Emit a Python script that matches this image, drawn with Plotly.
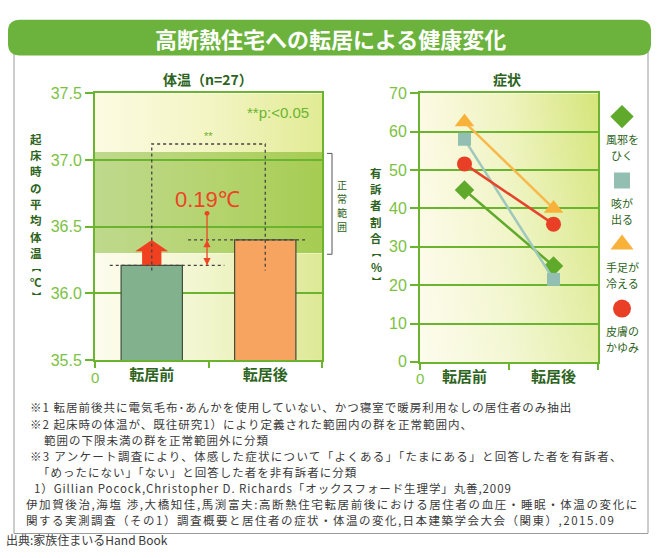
import base64
import plotly.graph_objects as go

W, H = 659, 558
def X(px): return px / W
def Y(py): return 1 - py / H

# ---------------- data ----------------
title = "高断熱住宅への転居による健康変化"
categories = ["転居前", "転居後"]

temp_title = "体温（n=27）"
temp_values = [36.21, 36.40]           # mean wake-up body temperature
temp_ticks = [35.5, 36.0, 36.5, 37.0, 37.5]
temp_range = [35.5, 37.5]
normal_range = [36.30, 37.06]          # 正常範囲
temp_axis_title = "起床時の平均体温"
temp_axis_unit = ["︻", "℃", "︼"]
diff_label = "0.19℃"
sig_label = "**p:<0.05"
normal_label = "正常範囲"

symp_title = "症状"
symptom_labels = [["風邪を", "ひく"], ["咳が", "出る"], ["手足が", "冷える"], ["皮膚の", "かゆみ"]]
cold = [44.8, 25.0]        # 風邪をひく
cough = [58.0, 21.5]       # 咳が出る
cold_limbs = [62.5, 40.0]  # 手足が冷える
itch = [51.6, 35.9]        # 皮膚のかゆみ
symp_ticks = [0, 10, 20, 30, 40, 50, 60, 70]
symp_range = [0, 70]
symp_axis_title = "有訴者割合"
symp_axis_unit = ["︻", "%", "︼"]

notes = [
    "※1 転居前後共に電気毛布･あんかを使用していない、かつ寝室で暖房利用なしの居住者のみ抽出",
    "※2 起床時の体温が、既往研究1）により定義された範囲内の群を正常範囲内、",
    "範囲の下限未満の群を正常範囲外に分類",
    "※3 アンケート調査により、体感した症状について「よくある」「たまにある」と回答した者を有訴者、",
    "「めったにない」「ない」と回答した者を非有訴者に分類",
    "1）Gillian Pocock,Christopher D. Richards「オックスフォード生理学」丸善,2009",
    "伊加賀後治,海塩 渉,大橋知佳,馬渕富夫:高断熱住宅転居前後における居住者の血圧・睡眠・体温の変化に",
    "関する実測調査（その1）調査概要と居住者の症状・体温の変化,日本建築学会大会（関東）,2015.09",
]
source_text = "出典:家族住まいるHand Book"

# ---------------- styles ----------------
JP = "Noto Sans CJK JP"
NUM = "Liberation Sans"
GREEN = "#6ab42f"
TICKGREEN = "#7cc143"
DARKGREEN = "#2d6320"
RED = "#ee4424"

def grad_uri(colors, vfade=0.0):
    stops = "".join(f'<stop offset="{i/(len(colors)-1):.3f}" stop-color="{c}"/>' for i, c in enumerate(colors))
    extra = ""
    if vfade > 0:
        extra = ('<linearGradient id="v" x1="0" y1="0" x2="0" y2="1">'
                 '<stop offset="0" stop-color="#ffffff" stop-opacity="0"/>'
                 f'<stop offset="1" stop-color="#ffffff" stop-opacity="{vfade}"/></linearGradient>')
    svg = ('<svg xmlns="http://www.w3.org/2000/svg" width="200" height="200" viewBox="0 0 200 200" '
           'preserveAspectRatio="none"><defs>'
           f'<linearGradient id="g" x1="0" y1="0" x2="1" y2="0">{stops}</linearGradient>{extra}</defs>'
           '<rect width="200" height="200" fill="url(#g)"/>'
           + ('<rect width="200" height="200" fill="url(#v)"/>' if vfade > 0 else '') + '</svg>')
    return "data:image/svg+xml;base64," + base64.b64encode(svg.encode()).decode()

fig = go.Figure()

# ---- left: body temperature bars ----
fig.add_trace(go.Bar(
    x=categories, y=temp_values, width=0.54,
    marker=dict(color=["#82b28d", "#f6a45f"], line=dict(color="#3f4f3a", width=1.2)),
    xaxis="x", yaxis="y", showlegend=False, hoverinfo="skip"))

# ---- right: symptom lines ----
series = [
    (cold, "diamond", 15, "#5fa92b", "#5fa92b"),
    (cough, "square", 13, "#93bfb2", "#9fc8bd"),
    (cold_limbs, "triangle-up", 17, "#f8b23a", "#f8b84a"),
    (itch, "circle", 15, "#e93f26", "#e5432b"),
]
for vals, sym, size, mcol, lcol in series:
    fig.add_trace(go.Scatter(
        x=categories, y=vals, mode="lines+markers",
        line=dict(color=lcol, width=2.5),
        marker=dict(symbol=sym, size=size, color=mcol),
        xaxis="x2", yaxis="y2", showlegend=False, hoverinfo="skip"))

# ---- custom legend markers ----
for i, (vals, sym, size, mcol, lcol) in enumerate(series):
    fig.add_trace(go.Scatter(
        x=[0], y=[i], mode="markers",
        marker=dict(symbol=sym, size=size + 3, color=mcol),
        xaxis="x3", yaxis="y3", showlegend=False, hoverinfo="skip"))

common_x = dict(type="category", range=[-0.5, 1.5], showgrid=False, showline=True, mirror=True,
                linecolor=GREEN, linewidth=2, ticks="outside", tickson="boundaries", ticklen=6,
                tickcolor=GREEN, tickwidth=2,
                tickfont=dict(family=JP, size=15, color=DARKGREEN, weight="bold"))
common_y = dict(showgrid=True, gridcolor=GREEN, gridwidth=2, showline=True, mirror=True,
                linecolor=GREEN, linewidth=2, ticks="outside", ticklen=8, tickcolor=GREEN,
                tickwidth=2, zeroline=False, tickfont=dict(family=NUM, size=16, color=TICKGREEN))

fig.update_layout(
    width=W, height=H, margin=dict(l=0, r=0, t=0, b=0),
    paper_bgcolor="white", plot_bgcolor="rgba(0,0,0,0)",
    xaxis=dict(domain=[X(95), X(322)], anchor="y", **common_x),
    yaxis=dict(domain=[Y(363), Y(88)], anchor="x", range=temp_range,
               tickvals=temp_ticks, ticktext=[f"{v:.1f}" for v in temp_ticks], **common_y),
    xaxis2=dict(domain=[X(420), X(598)], anchor="y2", **common_x),
    yaxis2=dict(domain=[Y(365), Y(88)], anchor="x2", range=symp_range,
                tickvals=symp_ticks, **common_y),
    xaxis3=dict(domain=[X(610), X(634)], anchor="y3", range=[-1, 1], visible=False),
    yaxis3=dict(domain=[Y(343), Y(79)], anchor="x3", range=[3.5, -0.5], visible=False),
)

# ---- backgrounds (gradients) ----
images = [
    dict(source=grad_uri(["#fcfbe2", "#f3f5c4", "#e1eb94"]), xref="x domain", yref="y",
         x=0, y=temp_range[1], sizex=1, sizey=temp_range[1] - normal_range[1]),
    dict(source=grad_uri(["#bfd98d", "#b5d470", "#a6cc52"]), xref="x domain", yref="y",
         x=0, y=normal_range[1], sizex=1, sizey=normal_range[1] - normal_range[0]),
    dict(source=grad_uri(["#fdfcee", "#f1f5cc", "#dde996"]), xref="x domain", yref="y",
         x=0, y=normal_range[0], sizex=1, sizey=normal_range[0] - temp_range[0]),
    dict(source=grad_uri(["#fcfae4", "#eef3bd", "#d6e57a"], vfade=0.35), xref="x2 domain", yref="y2",
         x=0, y=symp_range[1], sizex=1, sizey=symp_range[1] - symp_range[0]),
]
for im in images:
    im.update(xanchor="left", yanchor="top", sizing="stretch", layer="below")
fig.update_layout(images=images)

shapes = []
# frame
shapes.append(dict(type="rect", xref="paper", yref="paper", x0=X(14), x1=X(648), y0=Y(542), y1=Y(40),
                   line=dict(color="#9a9a9a", width=1)))
# banner
def rrect(x0, y0, x1, y1, r):
    return (f"M {X(x0+r)},{Y(y0)} L {X(x1-r)},{Y(y0)} Q {X(x1)},{Y(y0)} {X(x1)},{Y(y0+r)} "
            f"L {X(x1)},{Y(y1-r)} Q {X(x1)},{Y(y1)} {X(x1-r)},{Y(y1)} L {X(x0+r)},{Y(y1)} "
            f"Q {X(x0)},{Y(y1)} {X(x0)},{Y(y1-r)} L {X(x0)},{Y(y0+r)} Q {X(x0)},{Y(y0)} {X(x0+r)},{Y(y0)} Z")
shapes.append(dict(type="path", xref="paper", yref="paper", path=rrect(8, 12, 651, 49, 12),
                   fillcolor="#6bb33c", line=dict(width=0)))

b, a = temp_values
# red block arrow on the "before" bar
cx, sw, hw = 0.0, 0.085, 0.145
yb = b + 0.55 * (a - b)
shapes.append(dict(type="path", xref="x", yref="y",
                   path=(f"M {cx-sw},{b} L {cx-sw},{yb} L {cx-hw},{yb} L {cx},{a} L {cx+hw},{yb} "
                         f"L {cx+sw},{yb} L {cx+sw},{b} Z"),
                   fillcolor="#f0401f", line=dict(width=0)))
dot = dict(color="#444444", width=1.3, dash="dot")
shapes.append(dict(type="line", xref="x", yref="y", x0=-0.37, x1=0.64, y0=b, y1=b, line=dot))
shapes.append(dict(type="line", xref="x", yref="y", x0=0.32, x1=1.37, y0=a, y1=a, line=dot))
sig_top, sig_bot = 37.12, 36.17
shapes.append(dict(type="path", xref="x", yref="y",
                   path=f"M 0,{sig_bot} L 0,{sig_top} L 1,{sig_top} L 1,{sig_bot}", line=dot))
# difference arrow
ax_ = 0.487
y_dot = 36.6
shapes.append(dict(type="line", xref="x", yref="y", x0=ax_, x1=ax_, y0=y_dot, y1=b,
                   line=dict(color=RED, width=1.3)))
shapes.append(dict(type="circle", xref="x", yref="y", x0=ax_-0.022, x1=ax_+0.022,
                   y0=y_dot-0.018, y1=y_dot+0.018, fillcolor=RED, line=dict(width=0)))
th, tw = 0.055, 0.032
shapes.append(dict(type="path", xref="x", yref="y",
                   path=f"M {ax_},{a} L {ax_-tw},{a-th} L {ax_+tw},{a-th} Z", fillcolor=RED, line=dict(width=0)))
shapes.append(dict(type="path", xref="x", yref="y",
                   path=f"M {ax_},{b} L {ax_-tw},{b+th} L {ax_+tw},{b+th} Z", fillcolor=RED, line=dict(width=0)))
# normal range bracket
shapes.append(dict(type="path", xref="paper", yref="paper",
                   path=f"M {X(327)},{Y(150)} L {X(332)},{Y(150)} L {X(332)},{Y(254)} L {X(327)},{Y(254)}",
                   line=dict(color="#555555", width=1)))
fig.update_layout(shapes=shapes)

ann = []
def pa(text, x, y, size, color, family=JP, weight="normal", xanchor="center", yanchor="middle", align="center"):
    ann.append(dict(text=text, xref="paper", yref="paper", x=X(x), y=Y(y), showarrow=False,
                    xanchor=xanchor, yanchor=yanchor, align=align,
                    font=dict(family=family, size=size, color=color, weight=weight)))

pa(title, 330, 31, 22, "white", weight="bold")
pa(temp_title, 208, 73, 14, DARKGREEN, weight="bold")
pa(symp_title, 507, 73, 14, DARKGREEN, weight="bold")
pa(sig_label, 311, 108, 15, GREEN, family=NUM, xanchor="right")
pa("0", 95, 381, 15, TICKGREEN, family=NUM)
pa("0", 420, 382, 15, TICKGREEN, family=NUM)

# vertical axis titles (stacked characters, spaced so glyph boxes do not collide)
def stack(chars, unit, x, y0, size, usize, bsize):
    step = size * 1.46
    y = y0
    for ch in chars:
        pa(ch, x, y, size, DARKGREEN, weight="bold")
        y += step
    y += -step / 2 + bsize * 0.73
    for k, ch in enumerate(unit):
        s = bsize if k != 1 else usize
        pa(ch, x, y, s, DARKGREEN, weight="bold")
        nxt = bsize if k == 0 else bsize
        y += s * 0.73 + (usize if k == 0 else bsize) * 0.73

stack(temp_axis_title, temp_axis_unit, 36, 135, 11.5, 11.5, 9)
stack(symp_axis_title, symp_axis_unit, 376, 170, 11.5, 11.5, 9)
for k, ch in enumerate(normal_label):
    pa(ch, 342, 182 + 14.6 * k, 10, DARKGREEN)

# data-linked annotations on the left chart
ann.append(dict(text=diff_label, xref="x", yref="y", x=ax_, y=36.705, showarrow=False,
                font=dict(family=NUM, size=22, color=RED)))
ann.append(dict(text="**", xref="x", yref="y", x=0.5, y=sig_top, yanchor="bottom", showarrow=False,
                font=dict(family=NUM, size=11, color=GREEN)))

# legend labels
for i, lines in enumerate(symptom_labels):
    for j, ln in enumerate(lines):
        ann.append(dict(text=ln, xref="x3", yref="y3", x=0, y=i, yshift=-(22 + 16 * j), yanchor="middle",
                        showarrow=False, font=dict(family=JP, size=11, color=DARKGREEN)))

# notes (one text per line, letter-spaced to match the printed width)
note_layout = [(28, 412, 1.0), (28, 428.7, 1.0), (42, 445.3, 1.0), (28, 462, 1.3), (36, 478.6, 1.0),
               (32, 495.3, 0.9), (24, 512, 1.6), (24, 528.6, 1.5)]
for t, (x, y, ls) in zip(notes, note_layout):
    pa(f'<span style="letter-spacing:{ls}px">{t}</span>', x, y, 11.5, "#3a3a3a", xanchor="left", align="left")
pa(source_text, 4, 548.5, 12, "#3a3a3a", xanchor="left")

fig.update_layout(annotations=ann)
fig.write_html("out.html")
